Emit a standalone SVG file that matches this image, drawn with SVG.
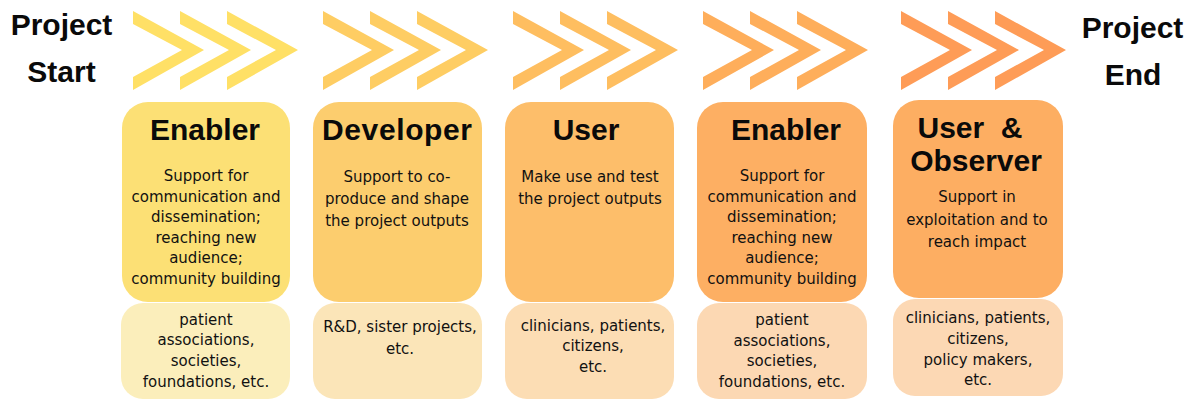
<svg xmlns="http://www.w3.org/2000/svg" width="1195" height="401" viewBox="0 0 1195 401">
<style>
.lbl{font-family:"Liberation Sans",Arial,sans-serif;font-weight:bold;font-size:30px;fill:#0a0a0a;text-anchor:middle}
.ttl{font-family:"Liberation Sans",Arial,sans-serif;font-weight:bold;font-size:30px;fill:#0a0a0a;text-anchor:middle}
.txt{font-family:"DejaVu Sans","Noto Sans",sans-serif;font-size:15px;fill:#111;text-anchor:middle}
</style>
<defs>
<path id="chev" d="M0,11 L71,50 L0,90 L0,77 L49,50 L0,24 Z"/>
<g id="chev3"><use href="#chev"/><use href="#chev" x="47"/><use href="#chev" x="94"/></g>
</defs>
<g id="start">
<text class="lbl" x="61.5" y="35">Project</text>
<text class="lbl" x="61.5" y="82">Start</text>
</g>
<g id="end">
<text class="lbl" x="1132.5" y="38">Project</text>
<text class="lbl" x="1133" y="85">End</text>
</g>
<g id="arrows">
<use href="#chev3" x="133" fill="#FFE066"/>
<use href="#chev3" x="323" fill="#FECD63"/>
<use href="#chev3" x="513" fill="#FEBE60"/>
<use href="#chev3" x="703" fill="#FEAE5B"/>
<use href="#chev3" x="901" fill="#FE9C57"/>
</g>
<g id="enabler1">
<rect x="122" y="102" width="168" height="200" rx="26" fill="#FCE075"/>
<rect x="121" y="303" width="169" height="96" rx="22" fill="#FBEEBB"/>
<text class="ttl" x="205" y="140">Enabler</text>
<text class="txt" x="206"><tspan x="206" y="181">Support for</tspan><tspan x="206" y="202">communication and</tspan><tspan x="206" y="222">dissemination;</tspan><tspan x="206" y="243">reaching new</tspan><tspan x="206" y="263">audience;</tspan><tspan x="206" y="284">community building</tspan></text>
<text class="txt"><tspan x="206" y="325">patient</tspan><tspan x="206" y="345">associations,</tspan><tspan x="206" y="366">societies,</tspan><tspan x="206" y="387">foundations, etc.</tspan></text>
</g>
<g id="developer">
<rect x="313" y="102" width="169" height="200" rx="26" fill="#FCCD6E"/>
<rect x="313" y="303" width="169" height="96" rx="22" fill="#FBE5B8"/>
<text class="ttl" x="397" y="140" textLength="150" lengthAdjust="spacing">Developer</text>
<text class="txt"><tspan x="397" y="182">Support to co-</tspan><tspan x="397" y="204">produce and shape</tspan><tspan x="397" y="226">the project outputs</tspan></text>
<text class="txt"><tspan x="400" y="332">R&amp;D, sister projects,</tspan><tspan x="400" y="354">etc.</tspan></text>
</g>
<g id="user">
<rect x="505" y="102" width="169" height="200" rx="26" fill="#FDBE6A"/>
<rect x="505" y="303" width="169" height="96" rx="22" fill="#FCDDB4"/>
<text class="ttl" x="586" y="140">User</text>
<text class="txt"><tspan x="590" y="182">Make use and test</tspan><tspan x="590" y="204">the project outputs</tspan></text>
<text class="txt"><tspan x="593" y="331">clinicians, patients,</tspan><tspan x="593" y="351">citizens,</tspan><tspan x="593" y="372">etc.</tspan></text>
</g>
<g id="enabler2">
<rect x="697" y="102" width="170" height="200" rx="26" fill="#FDAF63"/>
<rect x="697" y="303" width="170" height="96" rx="22" fill="#FCD8B3"/>
<text class="ttl" x="786" y="140">Enabler</text>
<text class="txt"><tspan x="782" y="181">Support for</tspan><tspan x="782" y="202">communication and</tspan><tspan x="782" y="222">dissemination;</tspan><tspan x="782" y="243">reaching new</tspan><tspan x="782" y="263">audience;</tspan><tspan x="782" y="284">community building</tspan></text>
<text class="txt"><tspan x="782" y="325">patient</tspan><tspan x="782" y="346">associations,</tspan><tspan x="782" y="366">societies,</tspan><tspan x="782" y="387">foundations, etc.</tspan></text>
</g>
<g id="observer">
<rect x="893" y="100" width="170" height="198" rx="26" fill="#FDAE62"/>
<rect x="893" y="299" width="170" height="97" rx="22" fill="#FCD8B4"/>
<text class="ttl" x="970" y="138" xml:space="preserve">User  &amp;</text>
<text class="ttl" x="976" y="171">Observer</text>
<text class="txt"><tspan x="977" y="202">Support in</tspan><tspan x="977" y="225">exploitation and to</tspan><tspan x="977" y="247">reach impact</tspan></text>
<text class="txt"><tspan x="978" y="323">clinicians, patients,</tspan><tspan x="978" y="344">citizens,</tspan><tspan x="978" y="365">policy makers,</tspan><tspan x="978" y="385">etc.</tspan></text>
</g>
</svg>
